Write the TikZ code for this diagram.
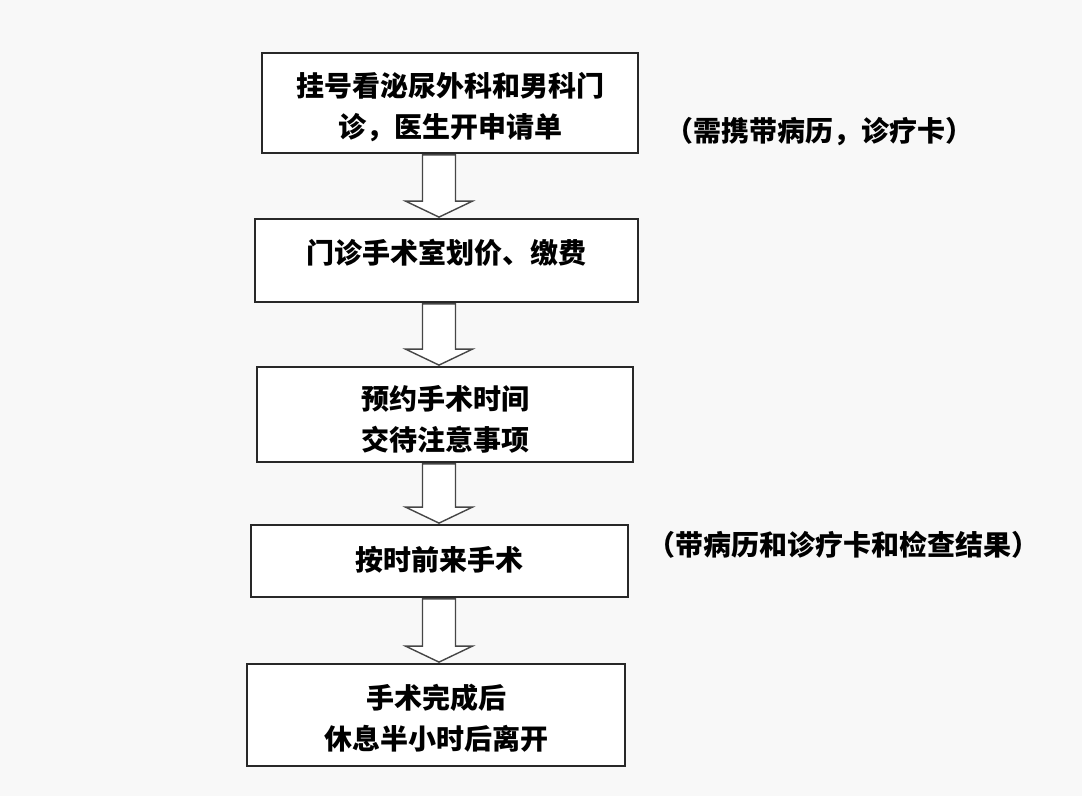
\documentclass[tikz,border=0pt]{standalone}
\usepackage{fontspec}
\newfontfamily\cjk{Noto Sans CJK SC}
\usetikzlibrary{calc}
\definecolor{bgc}{RGB}{248,248,248}
\definecolor{linec}{RGB}{40,40,40}
\definecolor{arrc}{RGB}{70,70,70}
\begin{document}
\begin{tikzpicture}[x=1pt,y=-1pt,
  stepbox/.style={draw=linec,line width=1.8pt,fill=white,inner sep=0pt},
  steptext/.style={inner sep=0pt,align=center,
    font=\cjk\bfseries\fontsize{28}{41}\selectfont,text=black},
  note/.style={inner sep=0pt,font=\cjk\bfseries\fontsize{28}{34}\selectfont,text=black},
  blockarr/.style={draw=arrc,line width=1.4pt,fill=white,line join=miter}]
\fill[bgc] (0,0) rectangle (1082,796);
\useasboundingbox (0,0) rectangle (1082,796);
\node[stepbox,minimum width=376pt,minimum height=100pt] (b1) at (450,103) {};
\node[stepbox,minimum width=383pt,minimum height=83pt] (b2) at (446.5,260.5) {};
\node[stepbox,minimum width=376pt,minimum height=95pt] (b3) at (445,414.5) {};
\node[stepbox,minimum width=377pt,minimum height=72pt] (b4) at (439.5,561) {};
\node[stepbox,minimum width=378pt,minimum height=102pt] (b5) at (436,715) {};
\node[steptext] (t1) at ($(b1.center)+(0,4.5)$) {挂号看泌尿外科和男科门\\诊，医生开申请单};
\node[steptext] (t2) at ($(b2.center)+(0,-7.5)$) {门诊手术室划价、缴费};
\node[steptext] (t3) at ($(b3.center)+(0,4.5)$) {预约手术时间\\交待注意事项};
\node[steptext] (t4) at ($(b4.center)+(0,-1.5)$) {按时前来手术};
\node[steptext] (t5) at ($(b5.center)+(0,3.5)$) {手术完成后\\休息半小时后离开};
\node[note] (n1) at (819,132) {（需携带病历，诊疗卡）};
\node[note] (n2) at (843,545) {（带病历和诊疗卡和检查结果）};
\coordinate (ax) at (439,0);
\newcommand{\blockarrow}[2]{%
  \draw[blockarr] let \p1=(#1.south -| ax), \p2=(#2.north -| ax) in
    (\x1-16.5pt,\y1-0.9pt) -- (\x1+16.5pt,\y1-0.9pt) -- (\x1+16.5pt,\y2+17pt) --
    (\x1+33.5pt,\y2+17pt) -- (\x1,\y2+1pt) -- (\x1-33.5pt,\y2+17pt) --
    (\x1-16.5pt,\y2+17pt) -- cycle;}
\blockarrow{b1}{b2}
\blockarrow{b2}{b3}
\blockarrow{b3}{b4}
\blockarrow{b4}{b5}
\end{tikzpicture}
\end{document}
